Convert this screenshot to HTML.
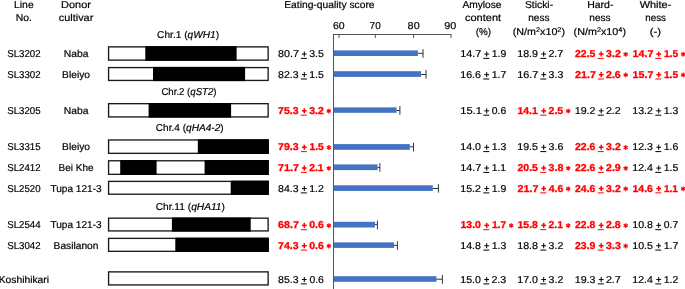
<!DOCTYPE html>
<html><head><meta charset="utf-8"><style>
html,body{margin:0;padding:0;background:#fff;overflow:hidden;}
svg{display:block;font-family:"Liberation Sans", sans-serif;font-size:10px;text-rendering:geometricPrecision;will-change:transform;}
</style></head><body>
<svg width="685" height="289" viewBox="0 0 685 289">
<text x="23.85" y="7.70" text-anchor="middle" stroke="#000" stroke-width="0.2" textLength="19.67" lengthAdjust="spacingAndGlyphs">Line</text>
<text x="23.90" y="21.30" text-anchor="middle" stroke="#000" stroke-width="0.2" textLength="16.17" lengthAdjust="spacingAndGlyphs">No.</text>
<text x="76.00" y="7.70" text-anchor="middle" stroke="#000" stroke-width="0.2" textLength="29.86" lengthAdjust="spacingAndGlyphs">Donor</text>
<text x="76.05" y="21.30" text-anchor="middle" stroke="#000" stroke-width="0.2" textLength="34.47" lengthAdjust="spacingAndGlyphs">cultivar</text>
<text x="284.19" y="7.70" stroke="#000" stroke-width="0.2" textLength="90.39" lengthAdjust="spacingAndGlyphs">Eating-quality score</text>
<text x="482.00" y="7.70" text-anchor="middle" stroke="#000" stroke-width="0.2" textLength="39.13" lengthAdjust="spacingAndGlyphs">Amylose</text>
<text x="483.05" y="21.30" text-anchor="middle" stroke="#000" stroke-width="0.2" textLength="36.08" lengthAdjust="spacingAndGlyphs">content</text>
<text x="483.50" y="34.70" text-anchor="middle" stroke="#000" stroke-width="0.2" textLength="15.33" lengthAdjust="spacingAndGlyphs">(%)</text>
<text x="539.00" y="7.70" text-anchor="middle" stroke="#000" stroke-width="0.2" textLength="28.25" lengthAdjust="spacingAndGlyphs">Sticki-</text>
<text x="538.90" y="21.30" text-anchor="middle" stroke="#000" stroke-width="0.2" textLength="21.30" lengthAdjust="spacingAndGlyphs">ness</text>
<text x="538.90" y="34.70" text-anchor="middle" stroke="#000" stroke-width="0.2" textLength="52.20" lengthAdjust="spacingAndGlyphs">(N/m<tspan font-size="6.8" dy="-3.2">2</tspan><tspan dy="3.2">x10</tspan><tspan font-size="6.8" dy="-3.2">2</tspan><tspan dy="3.2">)</tspan></text>
<text x="600.30" y="7.70" text-anchor="middle" stroke="#000" stroke-width="0.2" textLength="26.24" lengthAdjust="spacingAndGlyphs">Hard-</text>
<text x="599.95" y="21.30" text-anchor="middle" stroke="#000" stroke-width="0.2" textLength="21.20" lengthAdjust="spacingAndGlyphs">ness</text>
<text x="599.80" y="34.70" text-anchor="middle" stroke="#000" stroke-width="0.2" textLength="52.40" lengthAdjust="spacingAndGlyphs">(N/m<tspan font-size="6.8" dy="-3.2">2</tspan><tspan dy="3.2">x10</tspan><tspan font-size="6.8" dy="-3.2">4</tspan><tspan dy="3.2">)</tspan></text>
<text x="655.50" y="7.70" text-anchor="middle" stroke="#000" stroke-width="0.2" textLength="31.56" lengthAdjust="spacingAndGlyphs">White-</text>
<text x="655.60" y="21.30" text-anchor="middle" stroke="#000" stroke-width="0.2" textLength="20.67" lengthAdjust="spacingAndGlyphs">ness</text>
<text x="655.35" y="34.70" text-anchor="middle" stroke="#000" stroke-width="0.2" textLength="11.39" lengthAdjust="spacingAndGlyphs">(-)</text>
<text x="338.80" y="29.10" text-anchor="middle" stroke="#000" stroke-width="0.2" textLength="11.69" lengthAdjust="spacingAndGlyphs">60</text>
<text x="375.15" y="29.10" text-anchor="middle" stroke="#000" stroke-width="0.2" textLength="11.13" lengthAdjust="spacingAndGlyphs">70</text>
<text x="413.65" y="29.10" text-anchor="middle" stroke="#000" stroke-width="0.2" textLength="12.02" lengthAdjust="spacingAndGlyphs">80</text>
<text x="450.25" y="29.10" text-anchor="middle" stroke="#000" stroke-width="0.2" textLength="12.03" lengthAdjust="spacingAndGlyphs">90</text>
<line x1="333.00" y1="34.50" x2="451.50" y2="34.50" stroke="#555" stroke-width="1"/>
<line x1="333.50" y1="34.00" x2="333.50" y2="289.00" stroke="#555" stroke-width="1"/>
<line x1="339.00" y1="35.00" x2="339.00" y2="38.00" stroke="#555" stroke-width="1"/>
<line x1="375.30" y1="35.00" x2="375.30" y2="38.00" stroke="#555" stroke-width="1"/>
<line x1="413.50" y1="35.00" x2="413.50" y2="38.00" stroke="#555" stroke-width="1"/>
<line x1="451.00" y1="35.00" x2="451.00" y2="38.00" stroke="#555" stroke-width="1"/>
<rect x="108.58" y="46.88" width="159.55" height="13.25" fill="#fff" stroke="#1a1a1a" stroke-width="1.35"/>
<rect x="145.30" y="46.20" width="91.30" height="14.60" fill="#000"/>
<rect x="108.58" y="67.58" width="159.55" height="12.85" fill="#fff" stroke="#1a1a1a" stroke-width="1.35"/>
<rect x="153.00" y="66.90" width="92.10" height="14.20" fill="#000"/>
<rect x="108.58" y="103.67" width="159.55" height="13.25" fill="#fff" stroke="#1a1a1a" stroke-width="1.35"/>
<rect x="148.60" y="103.00" width="82.50" height="14.60" fill="#000"/>
<rect x="108.58" y="139.98" width="159.55" height="13.35" fill="#fff" stroke="#1a1a1a" stroke-width="1.35"/>
<rect x="197.80" y="139.30" width="71.00" height="14.70" fill="#000"/>
<rect x="108.58" y="160.78" width="159.55" height="13.55" fill="#fff" stroke="#1a1a1a" stroke-width="1.35"/>
<rect x="120.20" y="160.10" width="36.40" height="14.90" fill="#000"/>
<rect x="204.60" y="160.10" width="64.20" height="14.90" fill="#000"/>
<rect x="108.58" y="181.38" width="159.55" height="12.85" fill="#fff" stroke="#1a1a1a" stroke-width="1.35"/>
<rect x="230.70" y="180.70" width="38.10" height="14.20" fill="#000"/>
<rect x="108.58" y="218.18" width="159.55" height="12.75" fill="#fff" stroke="#1a1a1a" stroke-width="1.35"/>
<rect x="171.90" y="217.50" width="78.80" height="14.10" fill="#000"/>
<rect x="108.58" y="238.38" width="159.55" height="12.95" fill="#fff" stroke="#1a1a1a" stroke-width="1.35"/>
<rect x="175.30" y="237.70" width="93.50" height="14.30" fill="#000"/>
<rect x="108.58" y="271.88" width="159.55" height="13.05" fill="#fff" stroke="#1a1a1a" stroke-width="1.35"/>
<text x="188.10" y="38.10" text-anchor="middle" stroke="#000" stroke-width="0.2" textLength="61.94" lengthAdjust="spacingAndGlyphs">Chr.1 (<tspan font-style="italic">qWH1</tspan>)</text>
<text x="189.00" y="95.40" text-anchor="middle" stroke="#000" stroke-width="0.2" textLength="55.19" lengthAdjust="spacingAndGlyphs">Chr.2 (<tspan font-style="italic">qST2</tspan>)</text>
<text x="189.70" y="131.20" text-anchor="middle" stroke="#000" stroke-width="0.2" textLength="67.85" lengthAdjust="spacingAndGlyphs">Chr.4 (<tspan font-style="italic">qHA4-2</tspan>)</text>
<text x="190.30" y="209.80" text-anchor="middle" stroke="#000" stroke-width="0.2" textLength="69.22" lengthAdjust="spacingAndGlyphs">Chr.11 (<tspan font-style="italic">qHA11</tspan>)</text>
<text x="23.90" y="57.10" text-anchor="middle" stroke="#000" stroke-width="0.2" textLength="33.41" lengthAdjust="spacingAndGlyphs">SL3202</text>
<text x="76.05" y="57.10" text-anchor="middle" stroke="#000" stroke-width="0.2" textLength="24.68" lengthAdjust="spacingAndGlyphs">Naba</text>
<text x="278.11" y="57.10" stroke="#000" stroke-width="0.2" textLength="20.87" lengthAdjust="spacingAndGlyphs">80.7</text>
<text x="309.15" y="57.10" stroke="#000" stroke-width="0.2" textLength="14.71" lengthAdjust="spacingAndGlyphs">3.5</text>
<line x1="304.30" y1="51.50" x2="304.30" y2="56.60" stroke="#000" stroke-width="1"/>
<line x1="301.90" y1="54.05" x2="306.70" y2="54.05" stroke="#000" stroke-width="1"/>
<line x1="300.90" y1="58.40" x2="306.90" y2="58.40" stroke="#000" stroke-width="1"/>
<text x="460.27" y="57.10" stroke="#000" stroke-width="0.2" textLength="21.12" lengthAdjust="spacingAndGlyphs">14.7</text>
<text x="491.70" y="57.10" stroke="#000" stroke-width="0.2" textLength="14.55" lengthAdjust="spacingAndGlyphs">1.9</text>
<line x1="486.70" y1="51.50" x2="486.70" y2="56.60" stroke="#000" stroke-width="1"/>
<line x1="484.30" y1="54.05" x2="489.10" y2="54.05" stroke="#000" stroke-width="1"/>
<line x1="483.30" y1="58.40" x2="489.30" y2="58.40" stroke="#000" stroke-width="1"/>
<text x="517.28" y="57.10" stroke="#000" stroke-width="0.2" textLength="20.72" lengthAdjust="spacingAndGlyphs">18.9</text>
<text x="548.42" y="57.10" stroke="#000" stroke-width="0.2" textLength="14.90" lengthAdjust="spacingAndGlyphs">2.7</text>
<line x1="543.70" y1="51.50" x2="543.70" y2="56.60" stroke="#000" stroke-width="1"/>
<line x1="541.30" y1="54.05" x2="546.10" y2="54.05" stroke="#000" stroke-width="1"/>
<line x1="540.30" y1="58.40" x2="546.30" y2="58.40" stroke="#000" stroke-width="1"/>
<text x="575.04" y="57.10" font-weight="bold" fill="#ff0000" stroke="#ff0000" stroke-width="0.3" textLength="20.35" lengthAdjust="spacingAndGlyphs">22.5</text>
<text x="606.08" y="57.10" font-weight="bold" fill="#ff0000" stroke="#ff0000" stroke-width="0.3" textLength="14.67" lengthAdjust="spacingAndGlyphs">3.2</text>
<line x1="601.20" y1="51.50" x2="601.20" y2="56.60" stroke="#ff0000" stroke-width="1.5"/>
<line x1="598.80" y1="54.05" x2="603.60" y2="54.05" stroke="#ff0000" stroke-width="1.5"/>
<line x1="597.80" y1="58.40" x2="603.80" y2="58.40" stroke="#ff0000" stroke-width="1"/>
<line x1="625.70" y1="51.90" x2="625.70" y2="56.70" stroke="#ff0000" stroke-width="1.25"/>
<line x1="623.62" y1="53.10" x2="627.78" y2="55.50" stroke="#ff0000" stroke-width="1.25"/>
<line x1="627.78" y1="53.10" x2="623.62" y2="55.50" stroke="#ff0000" stroke-width="1.25"/>
<text x="632.50" y="57.10" font-weight="bold" fill="#ff0000" stroke="#ff0000" stroke-width="0.3" textLength="20.93" lengthAdjust="spacingAndGlyphs">14.7</text>
<text x="663.93" y="57.10" font-weight="bold" fill="#ff0000" stroke="#ff0000" stroke-width="0.3" textLength="14.23" lengthAdjust="spacingAndGlyphs">1.5</text>
<line x1="658.70" y1="51.50" x2="658.70" y2="56.60" stroke="#ff0000" stroke-width="1.5"/>
<line x1="656.30" y1="54.05" x2="661.10" y2="54.05" stroke="#ff0000" stroke-width="1.5"/>
<line x1="655.30" y1="58.40" x2="661.30" y2="58.40" stroke="#ff0000" stroke-width="1"/>
<line x1="683.20" y1="51.90" x2="683.20" y2="56.70" stroke="#ff0000" stroke-width="1.25"/>
<line x1="681.12" y1="53.10" x2="685.28" y2="55.50" stroke="#ff0000" stroke-width="1.25"/>
<line x1="685.28" y1="53.10" x2="681.12" y2="55.50" stroke="#ff0000" stroke-width="1.25"/>
<text x="23.90" y="77.70" text-anchor="middle" stroke="#000" stroke-width="0.2" textLength="33.41" lengthAdjust="spacingAndGlyphs">SL3302</text>
<text x="76.05" y="77.70" text-anchor="middle" stroke="#000" stroke-width="0.2" textLength="27.96" lengthAdjust="spacingAndGlyphs">Bleiyo</text>
<text x="278.12" y="77.70" stroke="#000" stroke-width="0.2" textLength="20.47" lengthAdjust="spacingAndGlyphs">82.3</text>
<text x="309.30" y="77.70" stroke="#000" stroke-width="0.2" textLength="14.55" lengthAdjust="spacingAndGlyphs">1.5</text>
<line x1="304.30" y1="72.10" x2="304.30" y2="77.20" stroke="#000" stroke-width="1"/>
<line x1="301.90" y1="74.65" x2="306.70" y2="74.65" stroke="#000" stroke-width="1"/>
<line x1="300.90" y1="79.00" x2="306.90" y2="79.00" stroke="#000" stroke-width="1"/>
<text x="460.28" y="77.70" stroke="#000" stroke-width="0.2" textLength="20.72" lengthAdjust="spacingAndGlyphs">16.6</text>
<text x="491.69" y="77.70" stroke="#000" stroke-width="0.2" textLength="14.61" lengthAdjust="spacingAndGlyphs">1.7</text>
<line x1="486.70" y1="72.10" x2="486.70" y2="77.20" stroke="#000" stroke-width="1"/>
<line x1="484.30" y1="74.65" x2="489.10" y2="74.65" stroke="#000" stroke-width="1"/>
<line x1="483.30" y1="79.00" x2="489.30" y2="79.00" stroke="#000" stroke-width="1"/>
<text x="517.27" y="77.70" stroke="#000" stroke-width="0.2" textLength="21.12" lengthAdjust="spacingAndGlyphs">16.7</text>
<text x="548.55" y="77.70" stroke="#000" stroke-width="0.2" textLength="14.77" lengthAdjust="spacingAndGlyphs">3.3</text>
<line x1="543.70" y1="72.10" x2="543.70" y2="77.20" stroke="#000" stroke-width="1"/>
<line x1="541.30" y1="74.65" x2="546.10" y2="74.65" stroke="#000" stroke-width="1"/>
<line x1="540.30" y1="79.00" x2="546.30" y2="79.00" stroke="#000" stroke-width="1"/>
<text x="575.03" y="77.70" font-weight="bold" fill="#ff0000" stroke="#ff0000" stroke-width="0.3" textLength="20.90" lengthAdjust="spacingAndGlyphs">21.7</text>
<text x="606.04" y="77.70" font-weight="bold" fill="#ff0000" stroke="#ff0000" stroke-width="0.3" textLength="14.73" lengthAdjust="spacingAndGlyphs">2.6</text>
<line x1="601.20" y1="72.10" x2="601.20" y2="77.20" stroke="#ff0000" stroke-width="1.5"/>
<line x1="598.80" y1="74.65" x2="603.60" y2="74.65" stroke="#ff0000" stroke-width="1.5"/>
<line x1="597.80" y1="79.00" x2="603.80" y2="79.00" stroke="#ff0000" stroke-width="1"/>
<line x1="625.70" y1="72.50" x2="625.70" y2="77.30" stroke="#ff0000" stroke-width="1.25"/>
<line x1="623.62" y1="73.70" x2="627.78" y2="76.10" stroke="#ff0000" stroke-width="1.25"/>
<line x1="627.78" y1="73.70" x2="623.62" y2="76.10" stroke="#ff0000" stroke-width="1.25"/>
<text x="632.50" y="77.70" font-weight="bold" fill="#ff0000" stroke="#ff0000" stroke-width="0.3" textLength="20.93" lengthAdjust="spacingAndGlyphs">15.7</text>
<text x="663.93" y="77.70" font-weight="bold" fill="#ff0000" stroke="#ff0000" stroke-width="0.3" textLength="14.23" lengthAdjust="spacingAndGlyphs">1.5</text>
<line x1="658.70" y1="72.10" x2="658.70" y2="77.20" stroke="#ff0000" stroke-width="1.5"/>
<line x1="656.30" y1="74.65" x2="661.10" y2="74.65" stroke="#ff0000" stroke-width="1.5"/>
<line x1="655.30" y1="79.00" x2="661.30" y2="79.00" stroke="#ff0000" stroke-width="1"/>
<line x1="683.20" y1="72.50" x2="683.20" y2="77.30" stroke="#ff0000" stroke-width="1.25"/>
<line x1="681.12" y1="73.70" x2="685.28" y2="76.10" stroke="#ff0000" stroke-width="1.25"/>
<line x1="685.28" y1="73.70" x2="681.12" y2="76.10" stroke="#ff0000" stroke-width="1.25"/>
<text x="23.90" y="113.90" text-anchor="middle" stroke="#000" stroke-width="0.2" textLength="33.41" lengthAdjust="spacingAndGlyphs">SL3205</text>
<text x="76.05" y="113.90" text-anchor="middle" stroke="#000" stroke-width="0.2" textLength="24.68" lengthAdjust="spacingAndGlyphs">Naba</text>
<text x="278.04" y="113.90" font-weight="bold" fill="#ff0000" stroke="#ff0000" stroke-width="0.3" textLength="20.51" lengthAdjust="spacingAndGlyphs">75.3</text>
<text x="309.18" y="113.90" font-weight="bold" fill="#ff0000" stroke="#ff0000" stroke-width="0.3" textLength="14.67" lengthAdjust="spacingAndGlyphs">3.2</text>
<line x1="304.30" y1="108.30" x2="304.30" y2="113.40" stroke="#ff0000" stroke-width="1.5"/>
<line x1="301.90" y1="110.85" x2="306.70" y2="110.85" stroke="#ff0000" stroke-width="1.5"/>
<line x1="300.90" y1="115.20" x2="306.90" y2="115.20" stroke="#ff0000" stroke-width="1"/>
<line x1="328.80" y1="108.70" x2="328.80" y2="113.50" stroke="#ff0000" stroke-width="1.25"/>
<line x1="326.72" y1="109.90" x2="330.88" y2="112.30" stroke="#ff0000" stroke-width="1.25"/>
<line x1="330.88" y1="109.90" x2="326.72" y2="112.30" stroke="#ff0000" stroke-width="1.25"/>
<text x="460.24" y="113.90" stroke="#000" stroke-width="0.2" textLength="21.63" lengthAdjust="spacingAndGlyphs">15.1</text>
<text x="491.80" y="113.90" stroke="#000" stroke-width="0.2" textLength="14.47" lengthAdjust="spacingAndGlyphs">0.6</text>
<line x1="486.70" y1="108.30" x2="486.70" y2="113.40" stroke="#000" stroke-width="1"/>
<line x1="484.30" y1="110.85" x2="489.10" y2="110.85" stroke="#000" stroke-width="1"/>
<line x1="483.30" y1="115.20" x2="489.30" y2="115.20" stroke="#000" stroke-width="1"/>
<text x="517.52" y="113.90" font-weight="bold" fill="#ff0000" stroke="#ff0000" stroke-width="0.3" textLength="20.17" lengthAdjust="spacingAndGlyphs">14.1</text>
<text x="548.54" y="113.90" font-weight="bold" fill="#ff0000" stroke="#ff0000" stroke-width="0.3" textLength="14.64" lengthAdjust="spacingAndGlyphs">2.5</text>
<line x1="543.70" y1="108.30" x2="543.70" y2="113.40" stroke="#ff0000" stroke-width="1.5"/>
<line x1="541.30" y1="110.85" x2="546.10" y2="110.85" stroke="#ff0000" stroke-width="1.5"/>
<line x1="540.30" y1="115.20" x2="546.30" y2="115.20" stroke="#ff0000" stroke-width="1"/>
<line x1="568.20" y1="108.70" x2="568.20" y2="113.50" stroke="#ff0000" stroke-width="1.25"/>
<line x1="566.12" y1="109.90" x2="570.28" y2="112.30" stroke="#ff0000" stroke-width="1.25"/>
<line x1="570.28" y1="109.90" x2="566.12" y2="112.30" stroke="#ff0000" stroke-width="1.25"/>
<text x="574.78" y="113.90" stroke="#000" stroke-width="0.2" textLength="20.72" lengthAdjust="spacingAndGlyphs">19.2</text>
<text x="605.92" y="113.90" stroke="#000" stroke-width="0.2" textLength="14.90" lengthAdjust="spacingAndGlyphs">2.2</text>
<line x1="601.20" y1="108.30" x2="601.20" y2="113.40" stroke="#000" stroke-width="1"/>
<line x1="598.80" y1="110.85" x2="603.60" y2="110.85" stroke="#000" stroke-width="1"/>
<line x1="597.80" y1="115.20" x2="603.80" y2="115.20" stroke="#000" stroke-width="1"/>
<text x="632.28" y="113.90" stroke="#000" stroke-width="0.2" textLength="20.72" lengthAdjust="spacingAndGlyphs">13.2</text>
<text x="663.69" y="113.90" stroke="#000" stroke-width="0.2" textLength="14.62" lengthAdjust="spacingAndGlyphs">1.3</text>
<line x1="658.70" y1="108.30" x2="658.70" y2="113.40" stroke="#000" stroke-width="1"/>
<line x1="656.30" y1="110.85" x2="661.10" y2="110.85" stroke="#000" stroke-width="1"/>
<line x1="655.30" y1="115.20" x2="661.30" y2="115.20" stroke="#000" stroke-width="1"/>
<text x="23.90" y="150.30" text-anchor="middle" stroke="#000" stroke-width="0.2" textLength="33.41" lengthAdjust="spacingAndGlyphs">SL3315</text>
<text x="76.05" y="150.30" text-anchor="middle" stroke="#000" stroke-width="0.2" textLength="27.96" lengthAdjust="spacingAndGlyphs">Bleiyo</text>
<text x="278.04" y="150.30" font-weight="bold" fill="#ff0000" stroke="#ff0000" stroke-width="0.3" textLength="20.51" lengthAdjust="spacingAndGlyphs">79.3</text>
<text x="309.53" y="150.30" font-weight="bold" fill="#ff0000" stroke="#ff0000" stroke-width="0.3" textLength="14.23" lengthAdjust="spacingAndGlyphs">1.5</text>
<line x1="304.30" y1="144.70" x2="304.30" y2="149.80" stroke="#ff0000" stroke-width="1.5"/>
<line x1="301.90" y1="147.25" x2="306.70" y2="147.25" stroke="#ff0000" stroke-width="1.5"/>
<line x1="300.90" y1="151.60" x2="306.90" y2="151.60" stroke="#ff0000" stroke-width="1"/>
<line x1="328.80" y1="145.10" x2="328.80" y2="149.90" stroke="#ff0000" stroke-width="1.25"/>
<line x1="326.72" y1="146.30" x2="330.88" y2="148.70" stroke="#ff0000" stroke-width="1.25"/>
<line x1="330.88" y1="146.30" x2="326.72" y2="148.70" stroke="#ff0000" stroke-width="1.25"/>
<text x="460.29" y="150.30" stroke="#000" stroke-width="0.2" textLength="20.65" lengthAdjust="spacingAndGlyphs">14.0</text>
<text x="491.69" y="150.30" stroke="#000" stroke-width="0.2" textLength="14.62" lengthAdjust="spacingAndGlyphs">1.3</text>
<line x1="486.70" y1="144.70" x2="486.70" y2="149.80" stroke="#000" stroke-width="1"/>
<line x1="484.30" y1="147.25" x2="489.10" y2="147.25" stroke="#000" stroke-width="1"/>
<line x1="483.30" y1="151.60" x2="489.30" y2="151.60" stroke="#000" stroke-width="1"/>
<text x="517.28" y="150.30" stroke="#000" stroke-width="0.2" textLength="20.72" lengthAdjust="spacingAndGlyphs">19.5</text>
<text x="548.55" y="150.30" stroke="#000" stroke-width="0.2" textLength="14.74" lengthAdjust="spacingAndGlyphs">3.6</text>
<line x1="543.70" y1="144.70" x2="543.70" y2="149.80" stroke="#000" stroke-width="1"/>
<line x1="541.30" y1="147.25" x2="546.10" y2="147.25" stroke="#000" stroke-width="1"/>
<line x1="540.30" y1="151.60" x2="546.30" y2="151.60" stroke="#000" stroke-width="1"/>
<text x="575.04" y="150.30" font-weight="bold" fill="#ff0000" stroke="#ff0000" stroke-width="0.3" textLength="20.39" lengthAdjust="spacingAndGlyphs">22.6</text>
<text x="606.08" y="150.30" font-weight="bold" fill="#ff0000" stroke="#ff0000" stroke-width="0.3" textLength="14.67" lengthAdjust="spacingAndGlyphs">3.2</text>
<line x1="601.20" y1="144.70" x2="601.20" y2="149.80" stroke="#ff0000" stroke-width="1.5"/>
<line x1="598.80" y1="147.25" x2="603.60" y2="147.25" stroke="#ff0000" stroke-width="1.5"/>
<line x1="597.80" y1="151.60" x2="603.80" y2="151.60" stroke="#ff0000" stroke-width="1"/>
<line x1="625.70" y1="145.10" x2="625.70" y2="149.90" stroke="#ff0000" stroke-width="1.25"/>
<line x1="623.62" y1="146.30" x2="627.78" y2="148.70" stroke="#ff0000" stroke-width="1.25"/>
<line x1="627.78" y1="146.30" x2="623.62" y2="148.70" stroke="#ff0000" stroke-width="1.25"/>
<text x="632.28" y="150.30" stroke="#000" stroke-width="0.2" textLength="20.72" lengthAdjust="spacingAndGlyphs">12.3</text>
<text x="663.70" y="150.30" stroke="#000" stroke-width="0.2" textLength="14.58" lengthAdjust="spacingAndGlyphs">1.6</text>
<line x1="658.70" y1="144.70" x2="658.70" y2="149.80" stroke="#000" stroke-width="1"/>
<line x1="656.30" y1="147.25" x2="661.10" y2="147.25" stroke="#000" stroke-width="1"/>
<line x1="655.30" y1="151.60" x2="661.30" y2="151.60" stroke="#000" stroke-width="1"/>
<text x="23.90" y="171.10" text-anchor="middle" stroke="#000" stroke-width="0.2" textLength="33.41" lengthAdjust="spacingAndGlyphs">SL2412</text>
<text x="76.05" y="171.10" text-anchor="middle" stroke="#000" stroke-width="0.2" textLength="34.89" lengthAdjust="spacingAndGlyphs">Bei Khe</text>
<text x="278.02" y="171.10" font-weight="bold" fill="#ff0000" stroke="#ff0000" stroke-width="0.3" textLength="21.01" lengthAdjust="spacingAndGlyphs">71.7</text>
<text x="309.15" y="171.10" font-weight="bold" fill="#ff0000" stroke="#ff0000" stroke-width="0.3" textLength="14.34" lengthAdjust="spacingAndGlyphs">2.1</text>
<line x1="304.30" y1="165.50" x2="304.30" y2="170.60" stroke="#ff0000" stroke-width="1.5"/>
<line x1="301.90" y1="168.05" x2="306.70" y2="168.05" stroke="#ff0000" stroke-width="1.5"/>
<line x1="300.90" y1="172.40" x2="306.90" y2="172.40" stroke="#ff0000" stroke-width="1"/>
<line x1="328.80" y1="165.90" x2="328.80" y2="170.70" stroke="#ff0000" stroke-width="1.25"/>
<line x1="326.72" y1="167.10" x2="330.88" y2="169.50" stroke="#ff0000" stroke-width="1.25"/>
<line x1="330.88" y1="167.10" x2="326.72" y2="169.50" stroke="#ff0000" stroke-width="1.25"/>
<text x="460.27" y="171.10" stroke="#000" stroke-width="0.2" textLength="21.12" lengthAdjust="spacingAndGlyphs">14.7</text>
<text x="491.71" y="171.10" stroke="#000" stroke-width="0.2" textLength="14.38" lengthAdjust="spacingAndGlyphs">1.1</text>
<line x1="486.70" y1="165.50" x2="486.70" y2="170.60" stroke="#000" stroke-width="1"/>
<line x1="484.30" y1="168.05" x2="489.10" y2="168.05" stroke="#000" stroke-width="1"/>
<line x1="483.30" y1="172.40" x2="489.30" y2="172.40" stroke="#000" stroke-width="1"/>
<text x="517.54" y="171.10" font-weight="bold" fill="#ff0000" stroke="#ff0000" stroke-width="0.3" textLength="20.35" lengthAdjust="spacingAndGlyphs">20.5</text>
<text x="548.58" y="171.10" font-weight="bold" fill="#ff0000" stroke="#ff0000" stroke-width="0.3" textLength="14.67" lengthAdjust="spacingAndGlyphs">3.8</text>
<line x1="543.70" y1="165.50" x2="543.70" y2="170.60" stroke="#ff0000" stroke-width="1.5"/>
<line x1="541.30" y1="168.05" x2="546.10" y2="168.05" stroke="#ff0000" stroke-width="1.5"/>
<line x1="540.30" y1="172.40" x2="546.30" y2="172.40" stroke="#ff0000" stroke-width="1"/>
<line x1="568.20" y1="165.90" x2="568.20" y2="170.70" stroke="#ff0000" stroke-width="1.25"/>
<line x1="566.12" y1="167.10" x2="570.28" y2="169.50" stroke="#ff0000" stroke-width="1.25"/>
<line x1="570.28" y1="167.10" x2="566.12" y2="169.50" stroke="#ff0000" stroke-width="1.25"/>
<text x="575.04" y="171.10" font-weight="bold" fill="#ff0000" stroke="#ff0000" stroke-width="0.3" textLength="20.39" lengthAdjust="spacingAndGlyphs">22.6</text>
<text x="606.04" y="171.10" font-weight="bold" fill="#ff0000" stroke="#ff0000" stroke-width="0.3" textLength="14.70" lengthAdjust="spacingAndGlyphs">2.9</text>
<line x1="601.20" y1="165.50" x2="601.20" y2="170.60" stroke="#ff0000" stroke-width="1.5"/>
<line x1="598.80" y1="168.05" x2="603.60" y2="168.05" stroke="#ff0000" stroke-width="1.5"/>
<line x1="597.80" y1="172.40" x2="603.80" y2="172.40" stroke="#ff0000" stroke-width="1"/>
<line x1="625.70" y1="165.90" x2="625.70" y2="170.70" stroke="#ff0000" stroke-width="1.25"/>
<line x1="623.62" y1="167.10" x2="627.78" y2="169.50" stroke="#ff0000" stroke-width="1.25"/>
<line x1="627.78" y1="167.10" x2="623.62" y2="169.50" stroke="#ff0000" stroke-width="1.25"/>
<text x="632.29" y="171.10" stroke="#000" stroke-width="0.2" textLength="20.62" lengthAdjust="spacingAndGlyphs">12.4</text>
<text x="663.70" y="171.10" stroke="#000" stroke-width="0.2" textLength="14.55" lengthAdjust="spacingAndGlyphs">1.5</text>
<line x1="658.70" y1="165.50" x2="658.70" y2="170.60" stroke="#000" stroke-width="1"/>
<line x1="656.30" y1="168.05" x2="661.10" y2="168.05" stroke="#000" stroke-width="1"/>
<line x1="655.30" y1="172.40" x2="661.30" y2="172.40" stroke="#000" stroke-width="1"/>
<text x="23.90" y="191.60" text-anchor="middle" stroke="#000" stroke-width="0.2" textLength="33.35" lengthAdjust="spacingAndGlyphs">SL2520</text>
<text x="76.05" y="191.60" text-anchor="middle" stroke="#000" stroke-width="0.2" textLength="51.27" lengthAdjust="spacingAndGlyphs">Tupa 121-3</text>
<text x="278.12" y="191.60" stroke="#000" stroke-width="0.2" textLength="20.47" lengthAdjust="spacingAndGlyphs">84.3</text>
<text x="309.29" y="191.60" stroke="#000" stroke-width="0.2" textLength="14.61" lengthAdjust="spacingAndGlyphs">1.2</text>
<line x1="304.30" y1="186.00" x2="304.30" y2="191.10" stroke="#000" stroke-width="1"/>
<line x1="301.90" y1="188.55" x2="306.70" y2="188.55" stroke="#000" stroke-width="1"/>
<line x1="300.90" y1="192.90" x2="306.90" y2="192.90" stroke="#000" stroke-width="1"/>
<text x="460.28" y="191.60" stroke="#000" stroke-width="0.2" textLength="20.72" lengthAdjust="spacingAndGlyphs">15.2</text>
<text x="491.70" y="191.60" stroke="#000" stroke-width="0.2" textLength="14.55" lengthAdjust="spacingAndGlyphs">1.9</text>
<line x1="486.70" y1="186.00" x2="486.70" y2="191.10" stroke="#000" stroke-width="1"/>
<line x1="484.30" y1="188.55" x2="489.10" y2="188.55" stroke="#000" stroke-width="1"/>
<line x1="483.30" y1="192.90" x2="489.30" y2="192.90" stroke="#000" stroke-width="1"/>
<text x="517.53" y="191.60" font-weight="bold" fill="#ff0000" stroke="#ff0000" stroke-width="0.3" textLength="20.90" lengthAdjust="spacingAndGlyphs">21.7</text>
<text x="548.71" y="191.60" font-weight="bold" fill="#ff0000" stroke="#ff0000" stroke-width="0.3" textLength="14.55" lengthAdjust="spacingAndGlyphs">4.6</text>
<line x1="543.70" y1="186.00" x2="543.70" y2="191.10" stroke="#ff0000" stroke-width="1.5"/>
<line x1="541.30" y1="188.55" x2="546.10" y2="188.55" stroke="#ff0000" stroke-width="1.5"/>
<line x1="540.30" y1="192.90" x2="546.30" y2="192.90" stroke="#ff0000" stroke-width="1"/>
<line x1="568.20" y1="186.40" x2="568.20" y2="191.20" stroke="#ff0000" stroke-width="1.25"/>
<line x1="566.12" y1="187.60" x2="570.28" y2="190.00" stroke="#ff0000" stroke-width="1.25"/>
<line x1="570.28" y1="187.60" x2="566.12" y2="190.00" stroke="#ff0000" stroke-width="1.25"/>
<text x="575.04" y="191.60" font-weight="bold" fill="#ff0000" stroke="#ff0000" stroke-width="0.3" textLength="20.39" lengthAdjust="spacingAndGlyphs">24.6</text>
<text x="606.08" y="191.60" font-weight="bold" fill="#ff0000" stroke="#ff0000" stroke-width="0.3" textLength="14.67" lengthAdjust="spacingAndGlyphs">3.2</text>
<line x1="601.20" y1="186.00" x2="601.20" y2="191.10" stroke="#ff0000" stroke-width="1.5"/>
<line x1="598.80" y1="188.55" x2="603.60" y2="188.55" stroke="#ff0000" stroke-width="1.5"/>
<line x1="597.80" y1="192.90" x2="603.80" y2="192.90" stroke="#ff0000" stroke-width="1"/>
<line x1="625.70" y1="186.40" x2="625.70" y2="191.20" stroke="#ff0000" stroke-width="1.25"/>
<line x1="623.62" y1="187.60" x2="627.78" y2="190.00" stroke="#ff0000" stroke-width="1.25"/>
<line x1="627.78" y1="187.60" x2="623.62" y2="190.00" stroke="#ff0000" stroke-width="1.25"/>
<text x="632.52" y="191.60" font-weight="bold" fill="#ff0000" stroke="#ff0000" stroke-width="0.3" textLength="20.42" lengthAdjust="spacingAndGlyphs">14.6</text>
<text x="663.95" y="191.60" font-weight="bold" fill="#ff0000" stroke="#ff0000" stroke-width="0.3" textLength="13.94" lengthAdjust="spacingAndGlyphs">1.1</text>
<line x1="658.70" y1="186.00" x2="658.70" y2="191.10" stroke="#ff0000" stroke-width="1.5"/>
<line x1="656.30" y1="188.55" x2="661.10" y2="188.55" stroke="#ff0000" stroke-width="1.5"/>
<line x1="655.30" y1="192.90" x2="661.30" y2="192.90" stroke="#ff0000" stroke-width="1"/>
<line x1="683.20" y1="186.40" x2="683.20" y2="191.20" stroke="#ff0000" stroke-width="1.25"/>
<line x1="681.12" y1="187.60" x2="685.28" y2="190.00" stroke="#ff0000" stroke-width="1.25"/>
<line x1="685.28" y1="187.60" x2="681.12" y2="190.00" stroke="#ff0000" stroke-width="1.25"/>
<text x="23.90" y="228.40" text-anchor="middle" stroke="#000" stroke-width="0.2" textLength="33.33" lengthAdjust="spacingAndGlyphs">SL2544</text>
<text x="76.05" y="228.40" text-anchor="middle" stroke="#000" stroke-width="0.2" textLength="51.27" lengthAdjust="spacingAndGlyphs">Tupa 121-3</text>
<text x="278.14" y="228.40" font-weight="bold" fill="#ff0000" stroke="#ff0000" stroke-width="0.3" textLength="20.89" lengthAdjust="spacingAndGlyphs">68.7</text>
<text x="309.18" y="228.40" font-weight="bold" fill="#ff0000" stroke="#ff0000" stroke-width="0.3" textLength="14.68" lengthAdjust="spacingAndGlyphs">0.6</text>
<line x1="304.30" y1="222.80" x2="304.30" y2="227.90" stroke="#ff0000" stroke-width="1.5"/>
<line x1="301.90" y1="225.35" x2="306.70" y2="225.35" stroke="#ff0000" stroke-width="1.5"/>
<line x1="300.90" y1="229.70" x2="306.90" y2="229.70" stroke="#ff0000" stroke-width="1"/>
<line x1="328.80" y1="223.20" x2="328.80" y2="228.00" stroke="#ff0000" stroke-width="1.25"/>
<line x1="326.72" y1="224.40" x2="330.88" y2="226.80" stroke="#ff0000" stroke-width="1.25"/>
<line x1="330.88" y1="224.40" x2="326.72" y2="226.80" stroke="#ff0000" stroke-width="1.25"/>
<text x="460.52" y="228.40" font-weight="bold" fill="#ff0000" stroke="#ff0000" stroke-width="0.3" textLength="20.43" lengthAdjust="spacingAndGlyphs">13.0</text>
<text x="491.93" y="228.40" font-weight="bold" fill="#ff0000" stroke="#ff0000" stroke-width="0.3" textLength="14.30" lengthAdjust="spacingAndGlyphs">1.7</text>
<line x1="486.70" y1="222.80" x2="486.70" y2="227.90" stroke="#ff0000" stroke-width="1.5"/>
<line x1="484.30" y1="225.35" x2="489.10" y2="225.35" stroke="#ff0000" stroke-width="1.5"/>
<line x1="483.30" y1="229.70" x2="489.30" y2="229.70" stroke="#ff0000" stroke-width="1"/>
<line x1="511.20" y1="223.20" x2="511.20" y2="228.00" stroke="#ff0000" stroke-width="1.25"/>
<line x1="509.12" y1="224.40" x2="513.28" y2="226.80" stroke="#ff0000" stroke-width="1.25"/>
<line x1="513.28" y1="224.40" x2="509.12" y2="226.80" stroke="#ff0000" stroke-width="1.25"/>
<text x="517.52" y="228.40" font-weight="bold" fill="#ff0000" stroke="#ff0000" stroke-width="0.3" textLength="20.42" lengthAdjust="spacingAndGlyphs">15.8</text>
<text x="548.55" y="228.40" font-weight="bold" fill="#ff0000" stroke="#ff0000" stroke-width="0.3" textLength="14.34" lengthAdjust="spacingAndGlyphs">2.1</text>
<line x1="543.70" y1="222.80" x2="543.70" y2="227.90" stroke="#ff0000" stroke-width="1.5"/>
<line x1="541.30" y1="225.35" x2="546.10" y2="225.35" stroke="#ff0000" stroke-width="1.5"/>
<line x1="540.30" y1="229.70" x2="546.30" y2="229.70" stroke="#ff0000" stroke-width="1"/>
<line x1="568.20" y1="223.20" x2="568.20" y2="228.00" stroke="#ff0000" stroke-width="1.25"/>
<line x1="566.12" y1="224.40" x2="570.28" y2="226.80" stroke="#ff0000" stroke-width="1.25"/>
<line x1="570.28" y1="224.40" x2="566.12" y2="226.80" stroke="#ff0000" stroke-width="1.25"/>
<text x="575.04" y="228.40" font-weight="bold" fill="#ff0000" stroke="#ff0000" stroke-width="0.3" textLength="20.39" lengthAdjust="spacingAndGlyphs">22.8</text>
<text x="606.04" y="228.40" font-weight="bold" fill="#ff0000" stroke="#ff0000" stroke-width="0.3" textLength="14.71" lengthAdjust="spacingAndGlyphs">2.8</text>
<line x1="601.20" y1="222.80" x2="601.20" y2="227.90" stroke="#ff0000" stroke-width="1.5"/>
<line x1="598.80" y1="225.35" x2="603.60" y2="225.35" stroke="#ff0000" stroke-width="1.5"/>
<line x1="597.80" y1="229.70" x2="603.80" y2="229.70" stroke="#ff0000" stroke-width="1"/>
<line x1="625.70" y1="223.20" x2="625.70" y2="228.00" stroke="#ff0000" stroke-width="1.25"/>
<line x1="623.62" y1="224.40" x2="627.78" y2="226.80" stroke="#ff0000" stroke-width="1.25"/>
<line x1="627.78" y1="224.40" x2="623.62" y2="226.80" stroke="#ff0000" stroke-width="1.25"/>
<text x="632.28" y="228.40" stroke="#000" stroke-width="0.2" textLength="20.72" lengthAdjust="spacingAndGlyphs">10.8</text>
<text x="663.80" y="228.40" stroke="#000" stroke-width="0.2" textLength="14.50" lengthAdjust="spacingAndGlyphs">0.7</text>
<line x1="658.70" y1="222.80" x2="658.70" y2="227.90" stroke="#000" stroke-width="1"/>
<line x1="656.30" y1="225.35" x2="661.10" y2="225.35" stroke="#000" stroke-width="1"/>
<line x1="655.30" y1="229.70" x2="661.30" y2="229.70" stroke="#000" stroke-width="1"/>
<text x="23.90" y="248.80" text-anchor="middle" stroke="#000" stroke-width="0.2" textLength="33.41" lengthAdjust="spacingAndGlyphs">SL3042</text>
<text x="76.05" y="248.80" text-anchor="middle" stroke="#000" stroke-width="0.2" textLength="44.87" lengthAdjust="spacingAndGlyphs">Basilanon</text>
<text x="278.04" y="248.80" font-weight="bold" fill="#ff0000" stroke="#ff0000" stroke-width="0.3" textLength="20.51" lengthAdjust="spacingAndGlyphs">74.3</text>
<text x="309.18" y="248.80" font-weight="bold" fill="#ff0000" stroke="#ff0000" stroke-width="0.3" textLength="14.68" lengthAdjust="spacingAndGlyphs">0.6</text>
<line x1="304.30" y1="243.20" x2="304.30" y2="248.30" stroke="#ff0000" stroke-width="1.5"/>
<line x1="301.90" y1="245.75" x2="306.70" y2="245.75" stroke="#ff0000" stroke-width="1.5"/>
<line x1="300.90" y1="250.10" x2="306.90" y2="250.10" stroke="#ff0000" stroke-width="1"/>
<line x1="328.80" y1="243.60" x2="328.80" y2="248.40" stroke="#ff0000" stroke-width="1.25"/>
<line x1="326.72" y1="244.80" x2="330.88" y2="247.20" stroke="#ff0000" stroke-width="1.25"/>
<line x1="330.88" y1="244.80" x2="326.72" y2="247.20" stroke="#ff0000" stroke-width="1.25"/>
<text x="460.28" y="248.80" stroke="#000" stroke-width="0.2" textLength="20.72" lengthAdjust="spacingAndGlyphs">14.8</text>
<text x="491.69" y="248.80" stroke="#000" stroke-width="0.2" textLength="14.62" lengthAdjust="spacingAndGlyphs">1.3</text>
<line x1="486.70" y1="243.20" x2="486.70" y2="248.30" stroke="#000" stroke-width="1"/>
<line x1="484.30" y1="245.75" x2="489.10" y2="245.75" stroke="#000" stroke-width="1"/>
<line x1="483.30" y1="250.10" x2="489.30" y2="250.10" stroke="#000" stroke-width="1"/>
<text x="517.28" y="248.80" stroke="#000" stroke-width="0.2" textLength="20.72" lengthAdjust="spacingAndGlyphs">18.8</text>
<text x="548.55" y="248.80" stroke="#000" stroke-width="0.2" textLength="14.76" lengthAdjust="spacingAndGlyphs">3.2</text>
<line x1="543.70" y1="243.20" x2="543.70" y2="248.30" stroke="#000" stroke-width="1"/>
<line x1="541.30" y1="245.75" x2="546.10" y2="245.75" stroke="#000" stroke-width="1"/>
<line x1="540.30" y1="250.10" x2="546.30" y2="250.10" stroke="#000" stroke-width="1"/>
<text x="575.04" y="248.80" font-weight="bold" fill="#ff0000" stroke="#ff0000" stroke-width="0.3" textLength="20.39" lengthAdjust="spacingAndGlyphs">23.9</text>
<text x="606.08" y="248.80" font-weight="bold" fill="#ff0000" stroke="#ff0000" stroke-width="0.3" textLength="14.71" lengthAdjust="spacingAndGlyphs">3.3</text>
<line x1="601.20" y1="243.20" x2="601.20" y2="248.30" stroke="#ff0000" stroke-width="1.5"/>
<line x1="598.80" y1="245.75" x2="603.60" y2="245.75" stroke="#ff0000" stroke-width="1.5"/>
<line x1="597.80" y1="250.10" x2="603.80" y2="250.10" stroke="#ff0000" stroke-width="1"/>
<line x1="625.70" y1="243.60" x2="625.70" y2="248.40" stroke="#ff0000" stroke-width="1.25"/>
<line x1="623.62" y1="244.80" x2="627.78" y2="247.20" stroke="#ff0000" stroke-width="1.25"/>
<line x1="627.78" y1="244.80" x2="623.62" y2="247.20" stroke="#ff0000" stroke-width="1.25"/>
<text x="632.28" y="248.80" stroke="#000" stroke-width="0.2" textLength="20.72" lengthAdjust="spacingAndGlyphs">10.5</text>
<text x="663.69" y="248.80" stroke="#000" stroke-width="0.2" textLength="14.61" lengthAdjust="spacingAndGlyphs">1.7</text>
<line x1="658.70" y1="243.20" x2="658.70" y2="248.30" stroke="#000" stroke-width="1"/>
<line x1="656.30" y1="245.75" x2="661.10" y2="245.75" stroke="#000" stroke-width="1"/>
<line x1="655.30" y1="250.10" x2="661.30" y2="250.10" stroke="#000" stroke-width="1"/>
<text x="23.90" y="282.60" text-anchor="middle" stroke="#000" stroke-width="0.2" textLength="50.31" lengthAdjust="spacingAndGlyphs">Koshihikari</text>
<text x="278.12" y="282.60" stroke="#000" stroke-width="0.2" textLength="20.47" lengthAdjust="spacingAndGlyphs">85.3</text>
<text x="309.40" y="282.60" stroke="#000" stroke-width="0.2" textLength="14.47" lengthAdjust="spacingAndGlyphs">0.6</text>
<line x1="304.30" y1="277.00" x2="304.30" y2="282.10" stroke="#000" stroke-width="1"/>
<line x1="301.90" y1="279.55" x2="306.70" y2="279.55" stroke="#000" stroke-width="1"/>
<line x1="300.90" y1="283.90" x2="306.90" y2="283.90" stroke="#000" stroke-width="1"/>
<text x="460.29" y="282.60" stroke="#000" stroke-width="0.2" textLength="20.65" lengthAdjust="spacingAndGlyphs">15.0</text>
<text x="491.42" y="282.60" stroke="#000" stroke-width="0.2" textLength="14.91" lengthAdjust="spacingAndGlyphs">2.3</text>
<line x1="486.70" y1="277.00" x2="486.70" y2="282.10" stroke="#000" stroke-width="1"/>
<line x1="484.30" y1="279.55" x2="489.10" y2="279.55" stroke="#000" stroke-width="1"/>
<line x1="483.30" y1="283.90" x2="489.30" y2="283.90" stroke="#000" stroke-width="1"/>
<text x="517.29" y="282.60" stroke="#000" stroke-width="0.2" textLength="20.65" lengthAdjust="spacingAndGlyphs">17.0</text>
<text x="548.55" y="282.60" stroke="#000" stroke-width="0.2" textLength="14.76" lengthAdjust="spacingAndGlyphs">3.2</text>
<line x1="543.70" y1="277.00" x2="543.70" y2="282.10" stroke="#000" stroke-width="1"/>
<line x1="541.30" y1="279.55" x2="546.10" y2="279.55" stroke="#000" stroke-width="1"/>
<line x1="540.30" y1="283.90" x2="546.30" y2="283.90" stroke="#000" stroke-width="1"/>
<text x="574.78" y="282.60" stroke="#000" stroke-width="0.2" textLength="20.72" lengthAdjust="spacingAndGlyphs">19.3</text>
<text x="605.92" y="282.60" stroke="#000" stroke-width="0.2" textLength="14.90" lengthAdjust="spacingAndGlyphs">2.7</text>
<line x1="601.20" y1="277.00" x2="601.20" y2="282.10" stroke="#000" stroke-width="1"/>
<line x1="598.80" y1="279.55" x2="603.60" y2="279.55" stroke="#000" stroke-width="1"/>
<line x1="597.80" y1="283.90" x2="603.80" y2="283.90" stroke="#000" stroke-width="1"/>
<text x="632.29" y="282.60" stroke="#000" stroke-width="0.2" textLength="20.62" lengthAdjust="spacingAndGlyphs">12.4</text>
<text x="663.69" y="282.60" stroke="#000" stroke-width="0.2" textLength="14.61" lengthAdjust="spacingAndGlyphs">1.2</text>
<line x1="658.70" y1="277.00" x2="658.70" y2="282.10" stroke="#000" stroke-width="1"/>
<line x1="656.30" y1="279.55" x2="661.10" y2="279.55" stroke="#000" stroke-width="1"/>
<line x1="655.30" y1="283.90" x2="661.30" y2="283.90" stroke="#000" stroke-width="1"/>
<rect x="334.00" y="50.40" width="83.90" height="5.60" fill="#4472c4"/>
<line x1="417.90" y1="53.30" x2="423.00" y2="53.30" stroke="#333" stroke-width="1"/>
<line x1="423.00" y1="49.20" x2="423.00" y2="57.80" stroke="#333" stroke-width="1"/>
<rect x="334.00" y="71.20" width="87.00" height="5.70" fill="#4472c4"/>
<line x1="421.00" y1="74.50" x2="426.00" y2="74.50" stroke="#333" stroke-width="1"/>
<line x1="426.00" y1="70.10" x2="426.00" y2="78.60" stroke="#333" stroke-width="1"/>
<rect x="334.00" y="107.40" width="62.60" height="5.40" fill="#4472c4"/>
<line x1="396.60" y1="110.50" x2="399.90" y2="110.50" stroke="#333" stroke-width="1"/>
<line x1="399.90" y1="106.00" x2="399.90" y2="114.70" stroke="#333" stroke-width="1"/>
<rect x="334.00" y="144.10" width="75.80" height="5.70" fill="#4472c4"/>
<line x1="409.80" y1="146.80" x2="413.50" y2="146.80" stroke="#333" stroke-width="1"/>
<line x1="413.50" y1="142.80" x2="413.50" y2="151.40" stroke="#333" stroke-width="1"/>
<rect x="334.00" y="164.40" width="43.60" height="5.70" fill="#4472c4"/>
<line x1="377.60" y1="167.50" x2="379.90" y2="167.50" stroke="#333" stroke-width="1"/>
<line x1="379.90" y1="163.10" x2="379.90" y2="171.80" stroke="#333" stroke-width="1"/>
<rect x="334.00" y="185.30" width="98.80" height="5.60" fill="#4472c4"/>
<line x1="432.80" y1="188.50" x2="438.40" y2="188.50" stroke="#333" stroke-width="1"/>
<line x1="438.40" y1="184.10" x2="438.40" y2="192.60" stroke="#333" stroke-width="1"/>
<rect x="334.00" y="221.80" width="41.00" height="5.70" fill="#4472c4"/>
<line x1="375.00" y1="224.40" x2="377.40" y2="224.40" stroke="#333" stroke-width="1"/>
<line x1="377.40" y1="220.60" x2="377.40" y2="229.30" stroke="#333" stroke-width="1"/>
<rect x="334.00" y="242.40" width="60.10" height="5.50" fill="#4472c4"/>
<line x1="394.10" y1="245.40" x2="397.40" y2="245.40" stroke="#333" stroke-width="1"/>
<line x1="397.40" y1="241.20" x2="397.40" y2="249.80" stroke="#333" stroke-width="1"/>
<rect x="334.00" y="276.20" width="102.50" height="5.60" fill="#4472c4"/>
<line x1="436.50" y1="279.20" x2="442.40" y2="279.20" stroke="#333" stroke-width="1"/>
<line x1="442.40" y1="275.00" x2="442.40" y2="283.80" stroke="#333" stroke-width="1"/>
</svg>
</body></html>
